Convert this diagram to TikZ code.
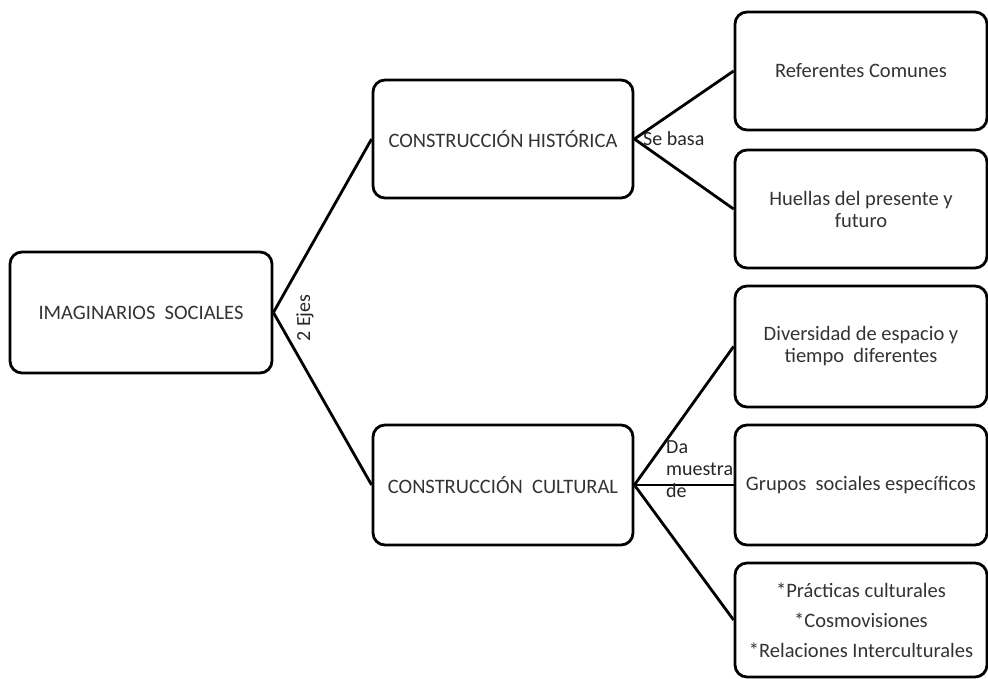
\documentclass[tikz,border=0pt]{standalone}
\usepackage{fontspec}
\setmainfont{Carlito}
\usepackage{tikz}
\usetikzlibrary{positioning, calc}

\tikzset{
    box/.style={draw, line width=2.8pt, rounded corners=12pt, align=center,
        inner sep=0pt, text=black!80, font=\fontsize{20.5}{22}\selectfont},
    link/.style={line width=2.8pt},
    lbl/.style={inner sep=0pt, text=black!85, font=\fontsize{20}{22}\selectfont}
}

\begin{document}
\begin{tikzpicture}[x=1pt, y=-1pt]
\useasboundingbox (0,0) rectangle (988,679);
% main node and the two axes
\node[box, minimum width=262pt, minimum height=121pt] (imag) at (141,312.5) {IMAGINARIOS\ \ SOCIALES};
\node[box, minimum width=260pt, minimum height=118pt] (hist) at (503,139) {CONSTRUCCI\'ON\ HIST\'ORICA};
\node[box, minimum width=260pt, minimum height=120pt] (cult) at (503,485) {CONSTRUCCI\'ON\ \ CULTURAL};
% right column
\node[box, minimum width=252pt, minimum height=118pt] (ref) at (861,71) {Referentes Comunes};
\node[box, minimum width=252pt, minimum height=118pt] (huel) at (861,209) {Huellas del\ presente\ y\\futuro};
\node[box, minimum width=252pt, minimum height=121pt] (div) at (861,346.5) {Diversidad\ de\ espacio\ y\\tiempo\ \ diferentes};
\node[box, minimum width=252pt, minimum height=120pt] (grup) at (861,485) {Grupos\ \ sociales\ espec\'ificos};
\node[box, minimum width=252pt, minimum height=114pt, font=\fontsize{20.5}{30}\selectfont] (prac) at (861,620)
    {*Pr\'acticas\ culturales\\*Cosmovisiones\\*Relaciones\ Interculturales};
% connectors
\draw[link] (imag.east) -- (hist.west);
\draw[link] (imag.east) -- (cult.west);
\draw[link] (hist.east) -- (ref.west);
\draw[link] (hist.east) -- (huel.west);
\draw[link] (cult.east) -- (div.west);
\draw[link] (cult.east) -- (grup.west);
\draw[link] (cult.east) -- (prac.west);
% labels on the connectors
\node[lbl, rotate=90] (ejes) at (305,318) {2 Ejes};
\node[lbl, anchor=west] (basa) at (643,139) {Se basa};
\node[lbl, anchor=north west, align=left] (muestra) at (666,440) {Da\\muestra\\de};
\end{tikzpicture}
\end{document}
